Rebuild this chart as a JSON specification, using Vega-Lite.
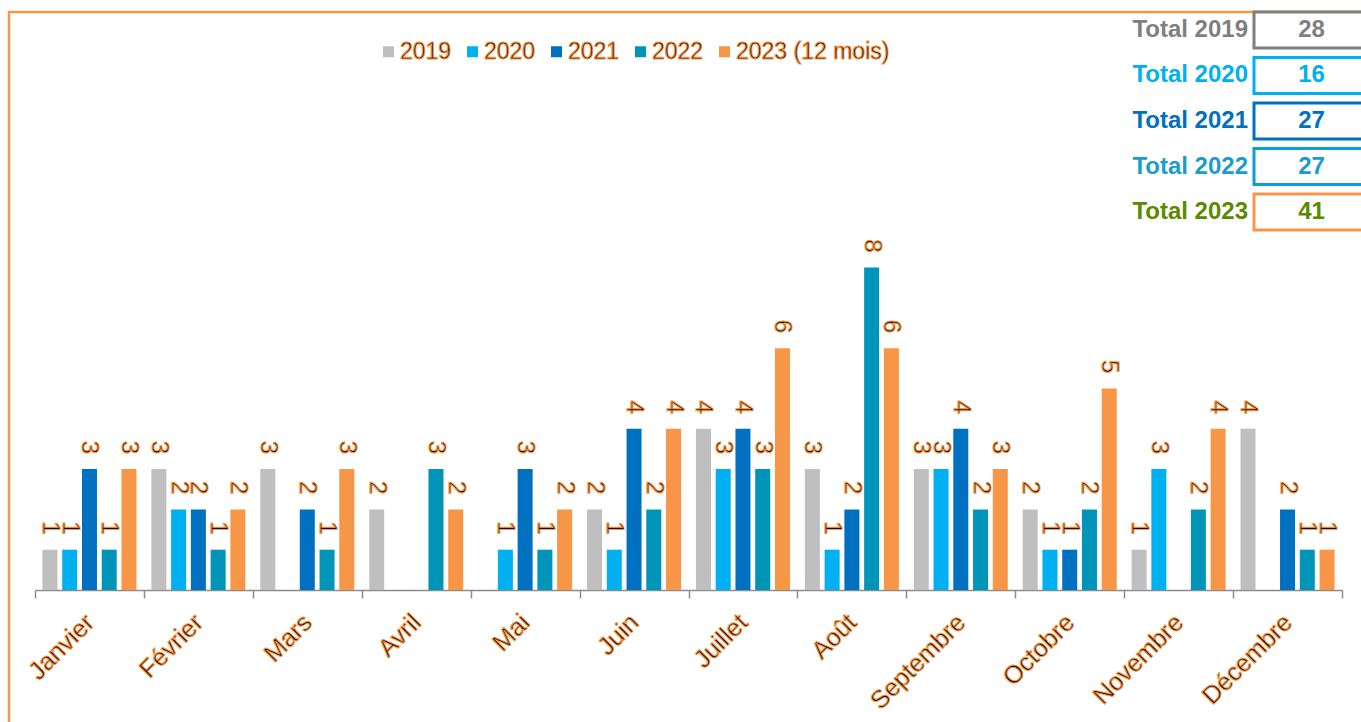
{
  "$schema": "https://vega.github.io/schema/vega-lite/v6.json",
  "width": 1362,
  "height": 720,
  "autosize": {"type": "none"},
  "padding": {"left": 9, "top": 12, "right": -10, "bottom": -10},
  "background": "white",
  "config": {
    "view": {"stroke": "#f79646", "strokeWidth": 2.5},
    "font": "Liberation Sans",
    "text": {"font": "Liberation Sans"}
  },
  "datasets": {
    "monthly": [
      {"month": "Janvier", "year": "2019", "value": 1},
      {"month": "Janvier", "year": "2020", "value": 1},
      {"month": "Janvier", "year": "2021", "value": 3},
      {"month": "Janvier", "year": "2022", "value": 1},
      {"month": "Janvier", "year": "2023", "value": 3},
      {"month": "Février", "year": "2019", "value": 3},
      {"month": "Février", "year": "2020", "value": 2},
      {"month": "Février", "year": "2021", "value": 2},
      {"month": "Février", "year": "2022", "value": 1},
      {"month": "Février", "year": "2023", "value": 2},
      {"month": "Mars", "year": "2019", "value": 3},
      {"month": "Mars", "year": "2021", "value": 2},
      {"month": "Mars", "year": "2022", "value": 1},
      {"month": "Mars", "year": "2023", "value": 3},
      {"month": "Avril", "year": "2019", "value": 2},
      {"month": "Avril", "year": "2022", "value": 3},
      {"month": "Avril", "year": "2023", "value": 2},
      {"month": "Mai", "year": "2020", "value": 1},
      {"month": "Mai", "year": "2021", "value": 3},
      {"month": "Mai", "year": "2022", "value": 1},
      {"month": "Mai", "year": "2023", "value": 2},
      {"month": "Juin", "year": "2019", "value": 2},
      {"month": "Juin", "year": "2020", "value": 1},
      {"month": "Juin", "year": "2021", "value": 4},
      {"month": "Juin", "year": "2022", "value": 2},
      {"month": "Juin", "year": "2023", "value": 4},
      {"month": "Juillet", "year": "2019", "value": 4},
      {"month": "Juillet", "year": "2020", "value": 3},
      {"month": "Juillet", "year": "2021", "value": 4},
      {"month": "Juillet", "year": "2022", "value": 3},
      {"month": "Juillet", "year": "2023", "value": 6},
      {"month": "Août", "year": "2019", "value": 3},
      {"month": "Août", "year": "2020", "value": 1},
      {"month": "Août", "year": "2021", "value": 2},
      {"month": "Août", "year": "2022", "value": 8},
      {"month": "Août", "year": "2023", "value": 6},
      {"month": "Septembre", "year": "2019", "value": 3},
      {"month": "Septembre", "year": "2020", "value": 3},
      {"month": "Septembre", "year": "2021", "value": 4},
      {"month": "Septembre", "year": "2022", "value": 2},
      {"month": "Septembre", "year": "2023", "value": 3},
      {"month": "Octobre", "year": "2019", "value": 2},
      {"month": "Octobre", "year": "2020", "value": 1},
      {"month": "Octobre", "year": "2021", "value": 1},
      {"month": "Octobre", "year": "2022", "value": 2},
      {"month": "Octobre", "year": "2023", "value": 5},
      {"month": "Novembre", "year": "2019", "value": 1},
      {"month": "Novembre", "year": "2020", "value": 3},
      {"month": "Novembre", "year": "2022", "value": 2},
      {"month": "Novembre", "year": "2023", "value": 4},
      {"month": "Décembre", "year": "2019", "value": 4},
      {"month": "Décembre", "year": "2021", "value": 2},
      {"month": "Décembre", "year": "2022", "value": 1},
      {"month": "Décembre", "year": "2023", "value": 1}
    ],
    "totals": [
      {"year": "2019", "label": "Total 2019", "total": 28},
      {"year": "2020", "label": "Total 2020", "total": 16},
      {"year": "2021", "label": "Total 2021", "total": 27},
      {"year": "2022", "label": "Total 2022", "total": 27},
      {"year": "2023", "label": "Total 2023", "total": 41}
    ]
  },
  "layer": [
    {
      "data": {"name": "monthly"},
      "encoding": {
        "x": {
          "field": "month",
          "type": "nominal",
          "sort": ["Janvier", "Février", "Mars", "Avril", "Mai", "Juin", "Juillet", "Août", "Septembre", "Octobre", "Novembre", "Décembre"],
          "scale": {"range": [26, 1333], "paddingInner": 0, "paddingOuter": 0},
          "axis": {
            "title": null,
            "orient": "bottom",
            "offset": -142,
            "domainColor": "#8c8c8c",
            "domainWidth": 1.5,
            "tickColor": "#8c8c8c",
            "tickWidth": 1.5,
            "tickSize": 8,
            "tickBand": "extent",
            "labelAngle": -45,
            "labelAlign": "right",
            "labelBaseline": "middle",
            "labelPadding": 20,
            "labelFontSize": 25,
            "labelFont": "Liberation Sans",
            "labelColor": "#1c0d00",
            "labelOverlap": false,
            "labelBound": false,
            "grid": false,
            "encoding": {"labels": {"stroke": {"value": "#f79646"}, "strokeWidth": {"value": 1}}}
          }
        },
        "xOffset": {"field": "year", "type": "nominal", "scale": {"paddingInner": 0.24, "paddingOuter": 0.377}},
        "y": {
          "field": "value",
          "type": "quantitative",
          "scale": {"domain": [-3.524, 14.342], "zero": false, "nice": false},
          "axis": null
        }
      },
      "layer": [
        {
          "mark": {"type": "bar"},
          "encoding": {
            "y2": {"datum": 0},
            "color": {
              "field": "year",
              "type": "nominal",
              "scale": {"domain": ["2019", "2020", "2021", "2022", "2023"], "range": ["#bfbfbf", "#00b0f0", "#0070c0", "#0095b8", "#f79646"]},
              "legend": {
                "title": null,
                "orient": "none",
                "legendX": 368,
                "legendY": 28,
                "direction": "horizontal",
                "symbolType": "square",
                "symbolSize": 121,
                "symbolStrokeWidth": 0,
                "labelFontSize": 23,
                "labelFont": "Liberation Sans",
                "labelColor": "#1c0d00",
                "labelOffset": 0,
                "columnPadding": 9,
                "labelLimit": 300,
                "labelExpr": "datum.label == '2023' ? '2023 (12 mois)' : datum.label",
                "encoding": {"labels": {"stroke": {"value": "#f79646"}, "strokeWidth": {"value": 1}}}
              }
            }
          }
        },
        {
          "mark": {"type": "text", "angle": 90, "align": "right", "baseline": "middle", "dx": -15, "fontSize": 24, "font": "Liberation Sans", "fill": "#1c0d00", "stroke": "#f79646", "strokeWidth": 1},
          "encoding": {"text": {"field": "value", "type": "quantitative"}}
        }
      ]
    },
    {
      "data": {"name": "totals"},
      "encoding": {
        "y": {
          "field": "year",
          "type": "nominal",
          "scale": {"type": "band", "range": [0, 218], "paddingInner": 0.209, "paddingOuter": 0},
          "axis": null
        }
      },
      "layer": [
        {
          "mark": {"type": "rect", "fill": "white", "strokeWidth": 3},
          "encoding": {
            "x": {"datum": 0, "type": "quantitative", "scale": {"domain": [0, 1], "range": [1245, 1360], "zero": false, "nice": false}, "axis": null},
            "x2": {"datum": 1},
            "stroke": {
              "field": "year",
              "type": "nominal",
              "scale": {"domain": ["2019", "2020", "2021", "2022", "2023"], "range": ["#7f7f7f", "#00b0f0", "#0070c0", "#0aa0d2", "#f79646"]},
              "legend": null
            }
          }
        },
        {
          "mark": {"type": "text", "align": "right", "baseline": "middle", "dx": -6, "fontSize": 24, "fontWeight": "bold", "font": "Liberation Sans"},
          "encoding": {
            "x": {"datum": 0, "type": "quantitative"},
            "text": {"field": "label", "type": "nominal"},
            "color": {
              "field": "year",
              "type": "nominal",
              "scale": {"domain": ["2019", "2020", "2021", "2022", "2023"], "range": ["#7f7f7f", "#00b0f0", "#0070c0", "#1b9ccc", "#5b8a00"]},
              "legend": null
            }
          }
        },
        {
          "mark": {"type": "text", "align": "center", "baseline": "middle", "fontSize": 24, "fontWeight": "bold", "font": "Liberation Sans"},
          "encoding": {
            "x": {"datum": 0.5, "type": "quantitative"},
            "text": {"field": "total", "type": "quantitative"},
            "color": {"field": "year", "type": "nominal", "legend": null}
          }
        }
      ]
    }
  ],
  "resolve": {"scale": {"x": "independent", "y": "independent", "color": "independent"}}
}
